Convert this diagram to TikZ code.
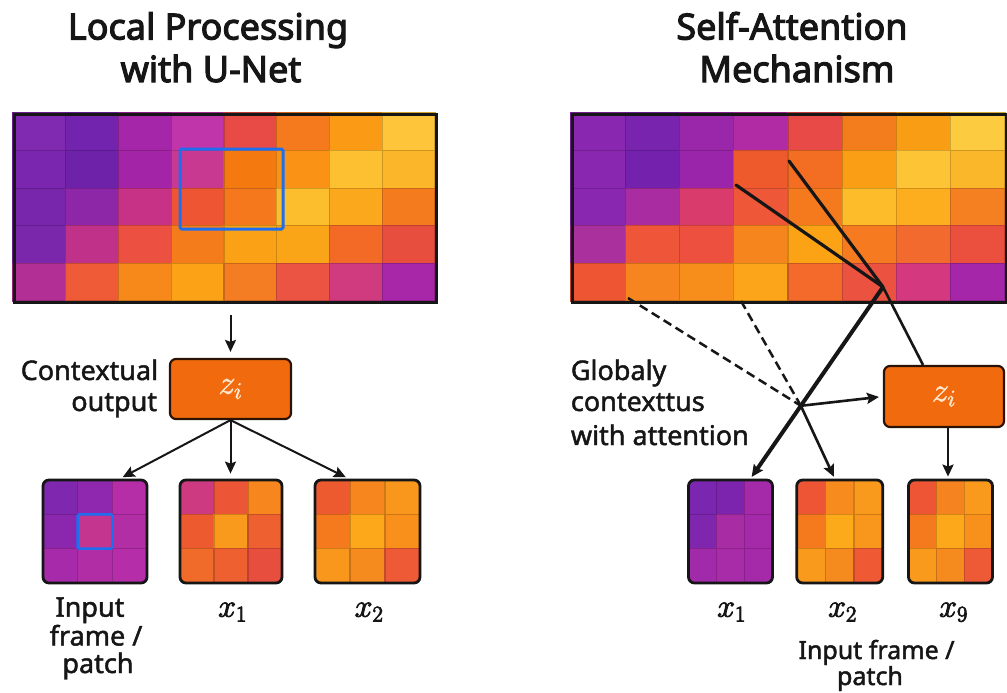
\RequirePackage{fix-cm}
\documentclass[tikz,border=0pt]{standalone}
\usepackage{fontspec}
\setmainfont{Noto Sans}
\usetikzlibrary{arrows.meta}

\definecolor{ink}{HTML}{161616}
\definecolor{zfill}{HTML}{F26A0E}
\definecolor{zedge}{HTML}{2A1306}
\definecolor{ztext}{HTML}{FFE6CC}
\definecolor{hlblue}{HTML}{1E6FF0}

% thicken glyph strokes (fill + stroke text rendering)
\newcommand\heavyon[1]{\special{pdf:literal direct 2 Tr #1 w}}
\newcommand\heavyoff{\special{pdf:literal direct 0 Tr}}

% fill a block of coloured cells, then outline every cell in a darker shade
\newcommand\heatgrid[5]{% x0, y0, cell width, cell height, rows of hex colours
  \foreach \row [count=\r from 0] in {#5}{%
    \foreach \hx [count=\k from 0] in \row {%
      \edef\hxdef{\noexpand\definecolor{cellc}{HTML}{\hx}}\hxdef
      \fill[cellc] ({(#1)+\k*(#3)},{(#2)+\r*(#4)}) rectangle ++({#3},{#4});
    }}%
  \foreach \row [count=\r from 0] in {#5}{%
    \foreach \hx [count=\k from 0] in \row {%
      \edef\hxdef{\noexpand\definecolor{cellc}{HTML}{\hx}}\hxdef
      \draw[cellc!82!black,line width=1.3pt] ({(#1)+\k*(#3)},{(#2)+\r*(#4)}) rectangle ++({#3},{#4});
    }}}

% a rounded 3x3 patch of cells with a black frame
\newcommand\patchbox[6]{% name, centre x, centre y, width, height, rows
  \begin{scope}
    \clip[rounded corners=6pt] ({(#2)-(#4)/2},{(#3)-(#5)/2}) rectangle ++({#4},{#5});
    \heatgrid{(#2)-(#4)/2}{(#3)-(#5)/2}{(#4)/3}{(#5)/3}{#6}
  \end{scope}
  \node[patch, minimum width=#4pt, minimum height=#5pt] (#1) at (#2,#3) {};}

\tikzset{
  weight/.style={execute at begin node={\heavyon{#1}}, execute at end node={\heavyoff}},
  patch/.style={draw=ink, line width=2.8pt, rounded corners=6pt, inner sep=0pt},
  bigframe/.style={draw=ink, line width=3pt, inner sep=0pt, anchor=north west},
  zbox/.style={draw=zedge, fill=zfill, line width=2.2pt, rounded corners=6pt,
    text=ztext, font=\fontsize{34}{38}\selectfont, inner sep=0pt, weight=0.5},
  ttl/.style={font=\fontsize{36}{42}\selectfont, text=ink, inner sep=0pt, anchor=base, weight=1.1},
  lbl/.style={font=\fontsize{27}{32}\selectfont, text=ink, inner sep=0pt, weight=0.45},
  mth/.style={font=\fontsize{32}{36}\selectfont, text=ink, inner sep=0pt, anchor=base, weight=0.9},
  arr/.style={-{Stealth[length=12pt,width=11pt,inset=2pt]}, line width=2pt, draw=ink},
  link/.style={line width=2.6pt, draw=ink},
  dashlink/.style={line width=2.5pt, draw=ink, dash pattern=on 9pt off 5pt},
  hl/.style={draw=hlblue, line width=3pt, rounded corners=1.5pt}
}

\begin{document}
\begin{tikzpicture}[x=1pt,y=-1pt]
\fill[white] (0,0) rectangle (1007,693);
\useasboundingbox (0,0) rectangle (1007,693);

% titles
\node[ttl] (t1a) at (208,39.5) {Local Processing};
\node[ttl] (t1b) at (211,82) {with U-Net};
\node[ttl] (t2a) at (792,39.5) {Self-Attention};
\node[ttl] (t2b) at (797,82) {Mechanism};

% ---------- local processing ----------
\heatgrid{13}{113}{52.75}{37.6}{
  {7F2AB0,7324AE,A526A8,C135AA,E84B45,F57A1E,FA9A15,FEC53A},
  {7B26AE,6E22A9,A324A6,C83A92,F47A10,FA9215,FDC030,FBB62A},
  {7826AB,8E26A8,C83286,EE5532,F5791C,FDBE2E,FCA81C,F57C1E},
  {7B27AB,C03189,EC5040,F57C1A,FBA115,FAA418,F26A26,E84E3E},
  {B22F96,EF5A37,F7891B,FCA217,F47C23,EB5342,D03A7E,A826A8}}
\node[bigframe, minimum width=422pt, minimum height=188pt] (gridL) at (13,113) {};
\draw[hl] (180,149) rectangle (283,229);

\node[zbox, minimum width=121pt, minimum height=60pt] (zL) at (230.5,389) {$z_i$};
\node[lbl, anchor=base east] (ctx1) at (158.3,380) {Contextual};
\node[lbl, anchor=base east] (ctx2) at (157.3,411) {output};

\patchbox{P1}{95}{531.5}{104}{103}{
  {8027B0,8F28AE,B52EA8},{8A27AE,C3358F,B22EA5},{A62AAA,B02DA6,B52DA8}}
\patchbox{P2}{231}{531.5}{102}{103}{
  {CE3A82,EC5535,F7861E},{EE5A30,F99A1C,EE6030},{F06A2A,EE6030,E84E3E}}
\patchbox{P3}{367.5}{531.5}{105}{103}{
  {EE5A30,F7861E,F9961C},{F57A1E,FCA81A,F9901C},{F9961C,F58A1E,EE5A35}}
\draw[hl, line width=2.5pt] (77.7,514.3) rectangle (112.3,548.7);

\draw[arr, shorten <=11pt, shorten >=6pt] (zL.north |- gridL.south) -- (zL.north);
\draw[arr, shorten >=3pt] (zL.south) -- ([xshift=25pt]P1.north);
\draw[arr, shorten >=5pt] (zL.south) -- (zL.south |- P2.north);
\draw[arr, shorten >=3pt] (zL.south) -- ([xshift=-19pt]P3.north);

\node[lbl, anchor=base] (in1) at (90,616.7) {Input};
\node[lbl, anchor=base] (in2) at (96,645.5) {frame /};
\node[lbl, anchor=base] (in3) at (98,673) {patch};
\node[mth] (lx1) at (232.5,616.7) {$x_1$};
\node[mth] (lx2) at (369,616.7) {$x_2$};

% ---------- self-attention ----------
\heatgrid{571}{113}{54.25}{37.6}{
  {8A27B0,7824AE,9A27AA,B02BA4,E84A47,F37D1D,F99D15,FDCB40},
  {8A27B0,7422AE,9A24AA,EE5A2C,F36D23,FA9E15,FDC436,FBB72A},
  {8A27B0,A92CA0,D93C6C,EE5737,F57A1E,FDBD2A,FCAE1F,F58022},
  {A9309D,EF5538,EE5040,F7851D,FBA215,F57A20,F26A2E,EB4F3E},
  {EE5633,F7851F,F78E1B,FCA51A,F36A2A,EB523F,D4397F,A626AA}}
\node[bigframe, minimum width=434pt, minimum height=188pt] (gridR) at (571,113) {};

\node[zbox, minimum width=120pt, minimum height=61pt] (zR) at (944,396.5) {$z_i$};

\patchbox{Q1}{730.5}{531.5}{84}{103}{
  {7A26B0,7C24AE,A52AAA},{7F26AE,A82CA4,A52AAA},{A02AAA,A82BA8,A52AAA}}
\patchbox{Q2}{839.7}{531.5}{86}{103}{
  {EE5535,F78B1E,F99A1D},{F57A1E,FCAA1A,F9961C},{FA9A1C,F58A1E,EF5A35}}
\patchbox{Q3}{950.5}{531.5}{84}{103}{
  {EE5535,F58420,F99A1D},{F57A1E,FCA81A,F8901C},{FA9A1C,F58A1E,EE5A35}}

\coordinate (hub) at (883,287);
\coordinate (h1) at (736,185);
\coordinate (h2) at (789,161);
\coordinate (d1) at (628,298);
\coordinate (d2) at (741,301);
\path (hub) -- ([xshift=20pt]Q1.north) coordinate[pos=0.62] (cross);

\draw[link, line width=3.2pt, line cap=round] (hub) -- (h1);
\draw[link, line width=3.2pt, line cap=round] (hub) -- (h2);
\draw[dashlink] (d1) -- (cross);
\draw[dashlink] (d2) -- (cross);
\draw[link, line width=2.6pt] (hub) -- ([xshift=-21pt]zR.north);
\draw[arr, line width=4pt, shorten >=2pt] (hub) -- ([xshift=20pt]Q1.north);
\draw[arr, line width=2.6pt, shorten >=2pt] (cross) -- ([xshift=-5pt]Q2.north);
\draw[arr, line width=2.6pt, shorten >=4pt] (cross) -- (zR.west);
\draw[arr, line width=2.4pt, shorten >=2pt] ([xshift=4pt]zR.south) -- ([xshift=4pt]zR.south |- Q3.north);

\node[lbl, anchor=base west] (g1) at (570.7,380) {Globaly};
\node[lbl, anchor=base west] (g2) at (570.7,411) {contexttus};
\node[lbl, anchor=base west] (g3) at (570.7,445) {with attention};

\node[mth] (rx1) at (731.5,616.7) {$x_1$};
\node[mth] (rx2) at (842.5,616.7) {$x_2$};
\node[mth] (rx9) at (953.5,616.7) {$x_9$};
\node[lbl, anchor=base, font=\fontsize{25}{30}\selectfont] (rin1) at (876.5,659) {Input frame /};
\node[lbl, anchor=base, font=\fontsize{25}{30}\selectfont] (rin2) at (870,685) {patch};
\end{tikzpicture}
\end{document}
